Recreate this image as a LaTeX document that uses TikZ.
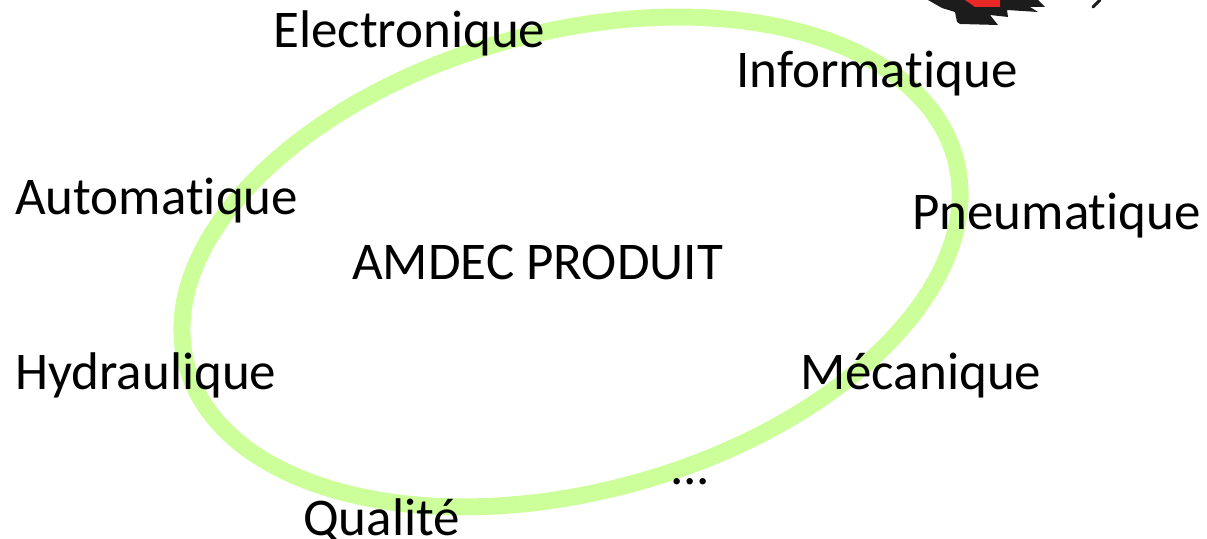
\documentclass[tikz,border=0pt]{standalone}
\usepackage{fontspec}
\setmainfont{Carlito}[RawFeature=-liga]
\definecolor{ringgreen}{RGB}{204,255,153}
\definecolor{inkblack}{RGB}{28,28,28}
\definecolor{inkred}{RGB}{235,40,40}
\begin{document}
\begin{tikzpicture}[x=1pt,y=1pt,
  lbl/.style={anchor=base west, inner sep=0pt, font=\fontsize{53}{60}\selectfont}]
\useasboundingbox (0,0) rectangle (1207,538);

% tilted ring around the central label
\draw[ringgreen, line width=17pt, rotate around={15:(571,276)}]
  (571,276) ellipse [x radius=398, y radius=230];

% corner of a cartoon figure, cut by the top edge
\fill[inkblack] (928,538) -- (942,530) -- (955,526) -- (957,516) -- (960,514)
  -- (998,513) -- (990,523) -- (1008,521) -- (1007,528) -- (1038,526)
  -- (1030,531) -- (1045,531) -- (1038,538) -- cycle;
\fill[inkred] (965,538) -- (1000,538) -- (1000,531) -- (975,531) -- cycle;
\draw[inkblack, line width=3pt, line cap=round] (1093,531) -- (1100,538);

% labels
\node[lbl] (center) at (352,258) {AMDEC PRODUIT};
\node[lbl] (elec)   at (273,490) {Electronique};
\node[lbl] (info)   at (736,450) {Informatique};
\node[lbl] (auto)   at (15,323)  {Automatique};
\node[lbl] (pneu)   at (912,308) {Pneumatique};
\node[lbl] (hydr)   at (15,148)  {Hydraulique};
\node[lbl] (meca)   at (800,148) {Mécanique};
\node[lbl] (etc)    at (670,53)  {...};
\node[lbl] (qual)   at (303,3)   {Qualité};
\end{tikzpicture}
\end{document}
